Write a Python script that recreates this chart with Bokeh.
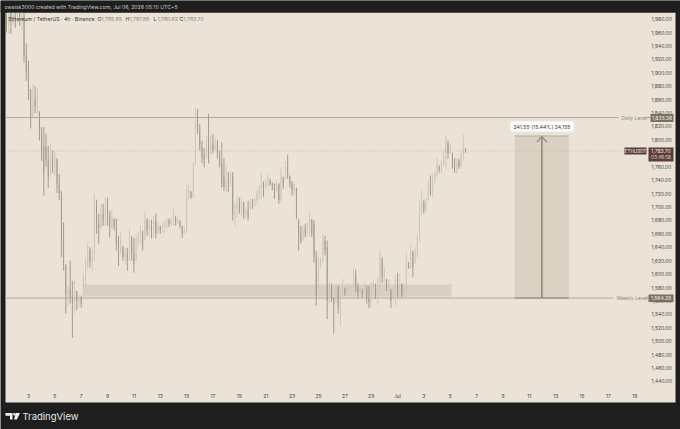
from bokeh.plotting import figure
from bokeh.models import (ColumnDataSource, Label, BoxAnnotation, PolyAnnotation, FixedTicker, Range1d)
from bokeh.embed import file_html
from bokeh.resources import INLINE

high = [2000,2005,2000,1998,2000,1995,2000,1995,1990,1944,1918,1876,1883,1880,1877,1843,1819,1819,1809,1791,
        1794,1784,1784,1773,1749,1724,1677,1615,1583,1620,1590,1593,1575,1570,1568,1601,1623,1647,1640,1638,
        1720,1711,1690,1705,1705,1714,1714,1694,1696,1683,1683,1657,1662,1642,1639,1639,1668,1657,1654,1660,
        1662,1672,1665,1692,1683,1680,1681,1687,1690,1677,1672,1677,1680,1683,1683,1684,1698,1687,1684,1680,
        1672,1669,1733,1733,1724,1766,1848,1846,1824,1799,1788,1806,1839,1806,1809,1802,1800,1784,1796,1773,
        1762,1752,1752,1752,1706,1717,1714,1715,1708,1698,1709,1712,1712,1714,1725,1732,1750,1738,1742,1750,
        1742,1737,1735,1740,1735,1759,1745,1768,1778,1747,1739,1735,1729,1682,1672,1672,1675,1677,1692,1682,
        1680,1635,1628,1625,1660,1657,1650,1588,1586,1565,1586,1583,1580,1593,1580,1586,1583,1583,1610,1607,
        1586,1580,1578,1588,1583,1583,1588,1590,1586,1595,1635,1625,1612,1593,1592,1578,1580,1598,1602,1600,
        1586,1585,1632,1618,1645,1635,1640,1660,1710,1725,1710,1713,1740,1747,1750,1754,1773,1762,1769,1784,
        1806,1799,1794,1781,1773,1773,1772,1784,1808,1787.86]
low = [1960,1958,1958,1971,1967,1975,1970,1963,1915,1888,1859,1817,1833,1840,1839,1799,1769,1717,1760,1728,
       1747,1751,1747,1721,1710,1625,1605,1541,1553,1556,1505,1541,1546,1550,1550,1565,1580,1608,1610,1605,
       1620,1660,1645,1668,1672,1672,1672,1654,1668,1665,1635,1612,1630,1620,1615,1605,1620,1620,1602,1620,
       1642,1645,1635,1650,1657,1657,1653,1654,1653,1660,1660,1662,1662,1668,1670,1672,1672,1672,1675,1668,
       1654,1660,1662,1710,1712,1714,1762,1809,1784,1765,1759,1773,1765,1777,1780,1784,1772,1759,1729,1724,
       1722,1722,1730,1680,1672,1684,1690,1686,1682,1684,1680,1695,1697,1702,1705,1710,1712,1715,1727,1730,
       1732,1725,1712,1722,1705,1708,1727,1742,1742,1729,1717,1717,1682,1635,1645,1650,1655,1660,1657,1655,
       1617,1553,1580,1615,1615,1628,1533,1556,1558,1511,1556,1541,1522,1565,1568,1565,1575,1578,1578,1573,
       1564,1570,1565,1576,1556,1549,1550,1572,1563,1556,1571,1587,1585,1575,1578,1550,1563,1553,1565,1562,
       1565,1566,1565,1608,1608,1596,1615,1625,1648,1687,1690,1692,1710,1717,1714,1735,1744,1751,1751,1762,
       1757,1772,1779,1757,1751,1750,1757,1759,1769,1780.62]
open_ = [1985,1970,1990,1975,1985,1975,1988,1978,1985,1925,1900,1875,1835,1860,1850,1842,1812,1790,1790,1770,
         1745,1775,1760,1770,1735,1720,1650,1612,1570,1578,1565,1555,1575,1560,1565,1566,1595,1610,1635,1618,
         1628,1700,1675,1668,1690,1680,1700,1690,1670,1682,1670,1645,1632,1640,1625,1632,1622,1655,1630,1620,
         1650,1655,1662,1650,1680,1665,1672,1660,1680,1660,1670,1665,1672,1678,1680,1675,1680,1686,1678,1680,
         1672,1660,1665,1720,1722,1715,1765,1835,1812,1790,1775,1776,1795,1780,1795,1785,1795,1780,1765,1745,
         1730,1740,1735,1745,1690,1698,1705,1695,1706,1690,1695,1698,1708,1702,1710,1720,1728,1735,1728,1738,
         1740,1735,1730,1724,1735,1710,1743,1745,1760,1745,1735,1725,1728,1681,1660,1650,1668,1660,1672,1682,
         1675,1625,1590,1610,1618,1650,1640,1560,1575,1565,1558,1580,1550,1570,1578,1572,1578,1580,1582,1600,
         1580,1572,1576,1578,1580,1565,1558,1580,1583,1570,1580,1622,1595,1590,1582,1575,1565,1575,1590,1575,
         1585,1570,1578,1617,1610,1632,1617,1630,1655,1690,1708,1695,1712,1735,1722,1742,1748,1760,1755,1765,
         1780,1795,1780,1781,1762,1755,1770,1760,1778,1785.65]
close = [1970,1990,1975,1985,1975,1988,1978,1985,1925,1900,1885,1835,1860,1850,1870,1812,1780,1750,1770,1745,
         1775,1760,1775,1735,1720,1650,1625,1570,1578,1565,1555,1575,1560,1565,1555,1595,1610,1635,1618,1625,
         1700,1675,1668,1690,1680,1700,1690,1670,1685,1670,1645,1625,1650,1625,1632,1618,1660,1630,1615,1650,
         1655,1665,1645,1680,1665,1672,1660,1680,1660,1672,1665,1672,1678,1680,1675,1680,1692,1678,1682,1672,
         1660,1665,1720,1725,1715,1760,1835,1812,1790,1775,1770,1795,1775,1795,1785,1795,1780,1765,1735,1730,
         1740,1735,1745,1690,1698,1705,1695,1708,1690,1695,1685,1708,1702,1710,1720,1728,1735,1722,1738,1745,
         1735,1730,1720,1735,1710,1750,1735,1760,1748,1735,1725,1732,1690,1660,1650,1668,1660,1672,1685,1660,
         1625,1570,1610,1620,1650,1635,1560,1575,1565,1555,1580,1550,1570,1585,1572,1578,1580,1582,1600,1580,
         1572,1578,1570,1583,1565,1558,1580,1585,1570,1585,1625,1595,1605,1582,1588,1560,1575,1590,1575,1585,
         1570,1578,1625,1610,1635,1610,1635,1655,1700,1715,1695,1708,1735,1722,1742,1748,1765,1755,1765,1780,
         1795,1780,1790,1762,1755,1768,1760,1778,1790,1783.70]

x_tick_days = [3,5,7,9,11,13,15,17,19,21,23,25,27,29,31,33,35,37,39,41,43,45,47,49]
x_tick_labels = ["3","5","7","9","11","13","15","17","19","21","23","25","27","29","Jul","3","5","7","9","11","13","15","17","19"]
y_ticks = list(range(1440, 2000, 20))

daily_level = 1833.38
weekly_level = 1564.29
last_price = 1783.70
zone_low, zone_high = 1566.6, 1584.5
zone_start_day, zone_end_day = 7.2, 35.1
measure_low, measure_high = 1564.29, 1805.84
measure_start_day, measure_end_day = 39.9, 44.0
first_bar_day = 1.33

# page pixel <-> data helpers; chart panel spans (5..675, 12..402)
X0, X1, Y0, Y1 = 5, 675, 12, 402
DAY0, DAY1 = 1.255, 52.09
P_TOP, P_BOT = 1989.9, 1408.6
W, H = 680, 429
def fx(px): return DAY0 + (px - X0) * (DAY1 - DAY0) / (X1 - X0)
def fy(py): return P_TOP - (py - Y0) * (P_TOP - P_BOT) / (Y1 - Y0)

BEIGE = "#ebe3d7"
DARK = "#1e1e1e"
UP = "#cfc8b9"
DOWN = "#a39b8c"
FONT = "Inter"

p = figure(output_backend="svg", toolbar_location=None, width=W, height=H,
           frame_width=W, frame_height=H,
           min_border_left=0, min_border_right=0, min_border_top=0, min_border_bottom=0,
           x_range=Range1d(fx(0), fx(W)), y_range=Range1d(fy(H), fy(0)),
           background_fill_color=DARK, border_fill_color=DARK,
           x_axis_location="below", y_axis_location="right")
p.outline_line_color = None
p.grid.visible = False

# Chart panel
p.add_layout(BoxAnnotation(left=fx(X0), right=fx(X1), top=fy(Y0), bottom=fy(Y1), fill_color=BEIGE,
                           fill_alpha=1, line_color=None, level="underlay"))

n = len(close)
days = [first_bar_day + i / 6 for i in range(n)]
colors = [UP if c >= o else DOWN for o, c in zip(open_, close)]
src = ColumnDataSource(dict(day=days, high=[max(h, o, c) for h, o, c in zip(high, open_, close)],
                            low=[min(l, o, c) for l, o, c in zip(low, open_, close)],
                            open=open_, close=close, color=colors))

# Zone
p.quad(left=[zone_start_day], right=[zone_end_day], bottom=[zone_low], top=[zone_high],
       fill_color="#d9d0c3", line_color=None)
# Measure box
p.quad(left=[measure_start_day], right=[measure_end_day], bottom=[measure_low], top=[measure_high],
       fill_color="#d9d1c2", line_color=None)

# Level lines
p.segment(x0=[fx(X0), fx(646)], x1=[fx(618), fx(650)], y0=[daily_level] * 2, y1=[daily_level] * 2,
          line_color="#b3a997", line_width=1)
p.segment(x0=[fx(X0), fx(646)], x1=[fx(613), fx(649)], y0=[weekly_level] * 2, y1=[weekly_level] * 2,
          line_color="#b3a997", line_width=1)
p.segment(x0=[fx(X0)], x1=[fx(X1)], y0=[last_price], y1=[last_price], line_color="#c4bbab",
          line_width=1, line_dash="1 2")

# Candles
p.segment(x0="day", x1="day", y0="low", y1="high", line_color="color", line_width=1, source=src)
p.vbar(x="day", width=0.06, bottom="open", top="close", fill_color="color", line_color=None, source=src)

# Measure arrow and edges
mid = (measure_start_day + measure_end_day) / 2
p.segment(x0=[mid], x1=[mid], y0=[measure_low], y1=[measure_high], line_color="#8f8574", line_width=1.5)
p.line(x=[mid - 0.38, mid, mid + 0.38], y=[measure_high - 9, measure_high - 0.5, measure_high - 9],
       line_color="#8f8574", line_width=1.2)
p.segment(x0=[measure_start_day], x1=[measure_end_day], y0=[measure_high], y1=[measure_high],
          line_color="#b5ab9a", line_width=1)
p.segment(x0=[measure_start_day], x1=[measure_end_day], y0=[measure_low], y1=[measure_low],
          line_color="#8f8574", line_width=1)

# Axes
xa = p.xaxis[0]
xa.ticker = FixedTicker(ticks=x_tick_days)
xa.major_label_overrides = dict(zip(x_tick_days, x_tick_labels))
xa.axis_line_color = None
xa.major_tick_line_color = None
xa.minor_tick_line_color = None
xa.major_tick_out = 0
xa.major_tick_in = 0
xa.major_label_standoff = -37
xa.major_label_text_font = FONT
xa.major_label_text_font_size = "5px"
xa.major_label_text_color = "#4a4640"

ya = p.yaxis[0]
ya.ticker = FixedTicker(ticks=y_ticks)
ya.major_label_overrides = {v: f"{v:,.2f}" for v in y_ticks}
ya.axis_line_color = None
ya.major_tick_line_color = None
ya.minor_tick_line_color = None
ya.major_tick_out = 0
ya.major_tick_in = 0
ya.major_label_standoff = -29
ya.major_label_text_font = FONT
ya.major_label_text_font_size = "5px"
ya.major_label_text_color = "#4a4640"

def label(text, px, py, size=5, color="#4a4640", align="left", style="normal"):
    p.add_layout(Label(x=fx(px), y=fy(py), text=text, text_font=FONT, text_font_size=f"{size}px",
                       text_color=color, text_align=align, text_baseline="middle", text_font_style=style))

def box(left, right, top, bottom, color, radius=0):
    p.add_layout(BoxAnnotation(left=fx(left), right=fx(right), top=fy(top), bottom=fy(bottom),
                               fill_color=color, fill_alpha=1, line_color=None, border_radius=radius))

# Dark band above the panel hides wicks that run past its top edge
box(0, W, 0, Y0, DARK)

# Top bar and header
label("owaisk3000 created with TradingView.com, Jul 06, 2026 05:10 UTC+5", 4, 6.5, size=5.2, color="#c9c9c9")
label("Ethereum / TetherUS · 4h · Binance", 8, 18.7, size=5.2, color="#3a3630")
for letter, val, xl in [("O", "1,785.65", 97), ("H", "1,787.86", 125), ("L", "1,780.62", 153), ("C", "1,783.70", 179)]:
    label(letter, xl, 18.7, size=5.2, color="#3a3630")
    label(val, xl + 4, 18.7, size=5.2, color="#8f8778")

# Measure text
box(510, 573, 121, 131, "#ffffff", radius=2)
label("241.55 (15.44%) 24,155", 541.5, 126, size=5.2, color="#3a3630", align="center")

# Level labels and tags
label("Daily Level", 621, 117.5, size=5, color="#8f8778")
label("Weekly Level", 616, 297.7, size=5, color="#8f8778")
box(650, 673, 113.5, 121.5, "#7a7060")
label("1,833.38", 661.5, 117.5, size=5, color="#f3eee6", align="center")
box(648, 673, 294, 301.5, "#7a7060")
label("1,564.29", 660.5, 297.7, size=5, color="#f3eee6", align="center")

box(624, 646, 147, 154, "#5c3d3a")
label("ETHUSDT", 635, 150.5, size=4.6, color="#f3eee6", align="center")
box(648, 673, 147, 161, "#5c3d3a")
label("1,783.70", 660.5, 150.5, size=5, color="#f3eee6", align="center")
label("03:49:58", 660.5, 157, size=4.6, color="#e3d9cf", align="center")

# Footer logo and word mark
for xs, ys in [([5, 12, 12, 9.5, 9.5, 5], [412.5, 412.5, 419, 419, 415.2, 415.2]),
               ([15.2, 19.4, 16.4, 13.6], [412.5, 412.5, 419, 419])]:
    p.add_layout(PolyAnnotation(xs=[fx(v) for v in xs], ys=[fy(v) for v in ys],
                                fill_color="#f2f2f2", fill_alpha=1, line_color=None))
p.add_layout(BoxAnnotation(left=fx(12.6), right=fx(15), top=fy(412.5), bottom=fy(415),
                           fill_color="#f2f2f2", fill_alpha=1, line_color=None, border_radius=1))
label("TradingView", 22, 416, size=9.5, color="#e8e8e8")

open("out.html", "w").write(file_html(p, INLINE))
